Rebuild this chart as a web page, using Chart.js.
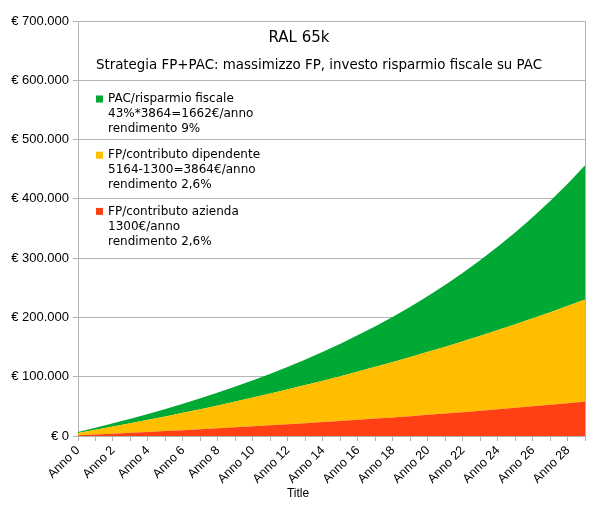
<!DOCTYPE html>
<html>
<head>
<meta charset="utf-8">
<script src="https://cdn.jsdelivr.net/npm/chart.js@4"></script>
<style>
  html, body { margin: 0; padding: 0; background: #fff; }
</style>
</head>
<body>
<canvas id="myChart" width="598" height="506"></canvas>
<script>
const ctx = document.getElementById('myChart')

const years = [
  'Anno 0', 'Anno 1', 'Anno 2', 'Anno 3', 'Anno 4', 'Anno 5', 'Anno 6', 'Anno 7', 'Anno 8', 'Anno 9',
  'Anno 10', 'Anno 11', 'Anno 12', 'Anno 13', 'Anno 14', 'Anno 15', 'Anno 16', 'Anno 17', 'Anno 18', 'Anno 19',
  'Anno 20', 'Anno 21', 'Anno 22', 'Anno 23', 'Anno 24', 'Anno 25', 'Anno 26', 'Anno 27', 'Anno 28', 'Anno 29'
]

// valori cumulati per anno (stack: azienda in basso, dipendente, PAC in alto)
const aziendaValues = [
  1300, 2600, 4000, 5400, 6800, 8300, 9800, 11400, 13000, 14600,
  16300, 18000, 19800, 21600, 23500, 25400, 27400, 29400, 31400, 33500,
  35700, 37900, 40200, 42600, 45000, 47500, 50000, 52600, 55300, 58000
]
const dipendenteValues = [
  3900, 7800, 11900, 16100, 20400, 24700, 29300, 33900, 38600, 43500,
  48500, 53600, 58900, 64300, 69800, 75500, 81300, 87300, 93400, 99700,
  106200, 112800, 119600, 126600, 133700, 141000, 148600, 156300, 164200, 172400
]
const pacValues = [
  1700, 3500, 5400, 7600, 9900, 12500, 15300, 18300, 21600, 25300,
  29200, 33500, 38100, 43200, 48800, 54900, 61500, 68600, 76500, 85000,
  94300, 104500, 115600, 127600, 140800, 155100, 170700, 187800, 206300, 226500
]

const yMin = 0
const yMax = 700000
const yStep = 100000

const seriesNames = [ 'FP/contributo azienda', 'FP/contributo dipendente', 'PAC/risparmio fiscale' ]
const seriesColors = [ '#ff4013', '#ffbf00', '#00a933' ]

const chartTitle = 'RAL 65k'
const chartSubtitle = 'Strategia FP+PAC: massimizzo FP, investo risparmio fiscale su PAC'
const axisTitle = 'Title'
const legendLines = [
  [ 'PAC/risparmio fiscale', '43%*3864=1662€/anno', 'rendimento 9%' ],
  [ 'FP/contributo dipendente', '5164-1300=3864€/anno', 'rendimento 2,6%' ],
  [ 'FP/contributo azienda', '1300€/anno', 'rendimento 2,6%' ]
]

const formatEuro = (v) => '€ ' + String(v).replace(/\B(?=(\d{3})+(?!\d))/g, '.')

// titolo, legenda e bordo destro disegnati sopra il grafico
const overlay = {
  id: 'overlay',
  afterDraw(chart) {
    const c = chart.ctx
    const area = chart.chartArea
    c.save()
    c.strokeStyle = '#b3b3b3'
    c.lineWidth = 1
    const rx = Math.round(area.right) + 0.5
    c.beginPath()
    c.moveTo(rx, area.top)
    c.lineTo(rx, area.bottom)
    c.stroke()

    c.fillStyle = '#000'
    c.textAlign = 'center'
    c.textBaseline = 'middle'
    c.font = '15px "DejaVu Sans"'
    c.fillText(chartTitle, 299, 38)
    c.font = '13.4px "DejaVu Sans"'
    c.fillText(chartSubtitle, 319, 66)

    c.textAlign = 'left'
    c.font = '12px "DejaVu Sans"'
    legendLines.forEach((lines, i) => {
      const y0 = 99 + i * 56.2
      c.fillStyle = seriesColors[seriesColors.length - 1 - i]
      c.fillRect(96, y0 - 3.5, 7, 7)
      c.fillStyle = '#000'
      lines.forEach((t, j) => c.fillText(t, 108, y0 + j * 15))
    })

    c.textAlign = 'center'
    c.font = '12px "Liberation Sans"'
    c.fillText(axisTitle, 298, 494)
    c.restore()
  }
}

const makeSet = (i, values) => ({
  label: seriesNames[i],
  data: values,
  backgroundColor: seriesColors[i],
  borderWidth: 0,
  pointRadius: 0,
  tension: 0,
  fill: i === 0 ? 'origin' : '-1'
})

new Chart(ctx, {
  type: 'line',
  data: {
    labels: years,
    datasets: [
      makeSet(0, aziendaValues),
      makeSet(1, dipendenteValues),
      makeSet(2, pacValues)
    ]
  },
  options: {
    responsive: false,
    animation: false,
    layout: { padding: { top: 21, right: 11, left: 0, bottom: 0 } },
    plugins: {
      legend: { display: false },
      tooltip: { enabled: false },
      title: { display: false }
    },
    scales: {
      x: {
        offset: false,
        grid: { drawOnChartArea: false, drawTicks: true, tickLength: 5, color: '#b3b3b3' },
        border: { color: '#b3b3b3' },
        ticks: {
          autoSkip: false,
          minRotation: 45,
          maxRotation: 45,
          padding: 2,
          color: '#000',
          font: { family: 'Liberation Sans', size: 12.5 },
          callback: (v, i) => i % 2 === 0 ? years[i] : ''
        },
        afterFit: (s) => { s.height = 70 }
      },
      y: {
        stacked: true,
        min: yMin,
        max: yMax,
        grid: { color: '#b3b3b3', tickLength: 5 },
        border: { color: '#b3b3b3' },
        ticks: {
          stepSize: yStep,
          padding: 4,
          color: '#000',
          font: { family: 'Liberation Sans', size: 13 },
          callback: (v) => formatEuro(v)
        },
        afterFit: (s) => { s.width = 78 }
      }
    }
  },
  plugins: [ overlay ]
})
</script>
</body>
</html>
